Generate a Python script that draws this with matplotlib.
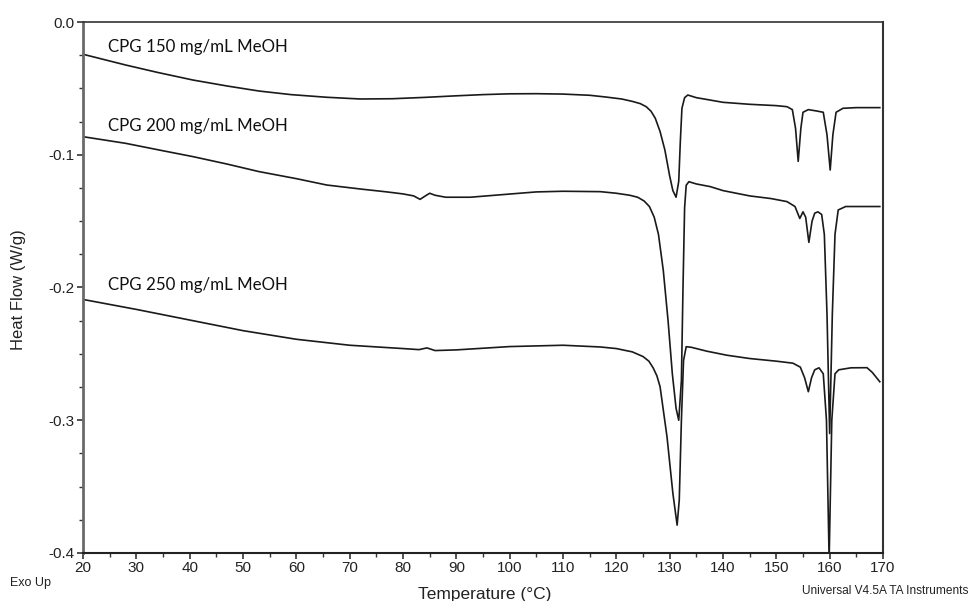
import matplotlib
matplotlib.use("Agg")
import matplotlib.pyplot as plt
from matplotlib.ticker import MultipleLocator, FuncFormatter

plt.rcParams['axes.unicode_minus'] = False

# ---- data ----
t_150 = [20, 28, 34, 40.6, 47, 53, 59, 65.7, 72, 78, 84, 90, 95, 100, 105, 110, 115,
         118, 121, 123, 124.5, 125.6, 126.5, 127.3, 128.2, 129.1, 130.0, 130.6, 131.2, 131.7,
         132.0, 132.3, 132.8, 133.4, 135, 137.6, 140, 145, 150, 152, 153, 153.6, 154.1,
         154.6, 155.0, 156, 157.5, 158.8, 159.5, 160.1, 160.6, 161.2, 162.5, 165, 169.4]
hf_150 = [-0.0243, -0.0324, -0.038, -0.0437, -0.0482, -0.052, -0.0547, -0.0567, -0.058,
          -0.0578, -0.0568, -0.0556, -0.0547, -0.0541, -0.054, -0.0543, -0.0552,
          -0.0565, -0.058, -0.0598, -0.0615, -0.0638, -0.0672, -0.0725, -0.0825, -0.0964,
          -0.116, -0.127, -0.132, -0.12, -0.09, -0.065, -0.057, -0.055, -0.057, -0.0588,
          -0.0605, -0.062, -0.063, -0.0638, -0.066, -0.080, -0.105, -0.080, -0.068, -0.066,
          -0.067, -0.068, -0.085, -0.1115, -0.085, -0.068, -0.065, -0.0645, -0.0645]

t_200 = [20, 28, 35, 40.6, 47, 53, 60, 65.7, 72, 77, 80, 82, 83.2, 84, 85, 86, 88, 92.6,
         100, 105, 110, 117, 120, 122.5, 124.0, 125.2, 126.2, 127.1, 127.9, 128.8, 129.7,
         130.5, 131.2, 131.7, 132.2, 132.5, 132.8, 133.1, 133.6, 135, 137.6, 140, 145, 149,
         152, 153.5, 154.4, 155.0, 155.5, 156.1, 156.7, 157.2, 157.8, 158.5, 159.0, 159.5,
         160.0, 160.5, 161.0, 161.6, 163, 169.4]
hf_200 = [-0.0864, -0.0914, -0.097, -0.1014, -0.107, -0.1127, -0.118, -0.1228, -0.1258,
          -0.128, -0.1295, -0.131, -0.1336, -0.1315, -0.129, -0.1305, -0.132, -0.132,
          -0.1296, -0.128, -0.1275, -0.1278, -0.129, -0.1305, -0.132, -0.1348, -0.139,
          -0.147, -0.160, -0.187, -0.225, -0.265, -0.291, -0.300, -0.27, -0.20, -0.14,
          -0.123, -0.1203, -0.122, -0.124, -0.127, -0.131, -0.133, -0.1353, -0.139, -0.148,
          -0.143, -0.147, -0.166, -0.150, -0.144, -0.143, -0.145, -0.16, -0.22, -0.31,
          -0.22, -0.16, -0.1416, -0.139, -0.139]

t_250 = [20, 30, 40, 50, 60, 70, 80, 83, 84.5, 86, 90, 100, 110, 117, 120, 123, 125, 126.1,
         126.9, 127.6, 128.2, 129.5, 130.6, 131.4, 131.8, 132.2, 132.6, 133.1, 134, 137, 140.7,
         145, 150, 153.1, 154.5, 155.3, 156.0, 156.6, 157.2, 158.0, 158.8, 159.4, 159.9,
         160.4, 161.0, 161.7, 164, 167, 168, 169.4]
hf_250 = [-0.209, -0.2165, -0.2245, -0.2325, -0.239, -0.2435, -0.246, -0.2468, -0.2455,
          -0.2475, -0.247, -0.2445, -0.2435, -0.2448, -0.246, -0.2485, -0.252, -0.2555,
          -0.2605, -0.2665, -0.2747, -0.3124, -0.355, -0.379, -0.36, -0.30, -0.255, -0.2446,
          -0.245, -0.248, -0.251, -0.2535, -0.2555, -0.257, -0.260, -0.268, -0.2785, -0.268,
          -0.262, -0.2605, -0.265, -0.30, -0.405, -0.30, -0.265, -0.262, -0.2605, -0.2604,
          -0.264, -0.271]

labels = ["CPG 150 mg/mL MeOH", "CPG 200 mg/mL MeOH", "CPG 250 mg/mL MeOH"]
label_x = [24.7, 24.7, 24.7]
label_y = [-0.0188, -0.0783, -0.198]

x_range = (20, 170)
y_range = (-0.4, 0.0)

# ---- figure ----
fig = plt.figure(figsize=(9.71, 6.01), dpi=100)
ax = fig.add_axes([83 / 971, 1 - 553 / 601, 800 / 971, 531 / 601])

for t, hf in [(t_150, hf_150), (t_200, hf_200), (t_250, hf_250)]:
    ax.plot(t, hf, color='#1a1a1a', lw=1.2, solid_joinstyle='round', clip_on=True)

for lab, lx, ly in zip(labels, label_x, label_y):
    ax.text(lx, ly, lab, fontsize=12.2, family=['Lato', 'DejaVu Sans'],
            color='#111111', va='center', ha='left')

ax.set_xlim(*x_range)
ax.set_ylim(*y_range)
ax.xaxis.set_major_locator(MultipleLocator(10))
ax.xaxis.set_minor_locator(MultipleLocator(5))
ax.yaxis.set_major_locator(MultipleLocator(0.1))
ax.yaxis.set_minor_locator(MultipleLocator(0.025))
ax.yaxis.set_major_formatter(FuncFormatter(lambda v, p: "0.0" if abs(v) < 1e-9 else "%.1f" % v))
ax.xaxis.set_major_formatter(FuncFormatter(lambda v, p: "%d" % round(v)))

ax.tick_params(axis='both', which='major', direction='out', length=4, width=1.2,
               labelsize=11, colors='#333333', labelcolor='#222222', pad=2)
ax.tick_params(axis='both', which='minor', direction='out', length=3, width=1.0,
               colors='#333333')
for lab in ax.get_xticklabels() + ax.get_yticklabels():
    lab.set_family(['Liberation Sans', 'DejaVu Sans'])

ax.spines['left'].set_color('#6a6a6a')
ax.spines['left'].set_linewidth(2.0)
ax.spines['bottom'].set_color('#222222')
ax.spines['bottom'].set_linewidth(1.5)
ax.spines['top'].set_color('#333333')
ax.spines['top'].set_linewidth(1.2)
ax.spines['right'].set_color('#333333')
ax.spines['right'].set_linewidth(1.5)

fig.text(18 / 971, 1 - 290 / 601, "Heat Flow (W/g)", rotation=90, ha='center', va='center',
         fontsize=12, family=['Liberation Sans', 'DejaVu Sans'], color='#222222')
fig.text(485 / 971, 1 - 594 / 601, "Temperature (°C)", ha='center', va='center',
         fontsize=12.5, family=['Liberation Sans', 'DejaVu Sans'], color='#222222')
fig.text(10 / 971, 1 - 583 / 601, "Exo Up", ha='left', va='center',
         fontsize=9, family=['Liberation Sans', 'DejaVu Sans'], color='#222222')
fig.text(968 / 971, 1 - 591 / 601, "Universal V4.5A TA Instruments", ha='right', va='center',
         fontsize=8.6, family=['Liberation Sans', 'DejaVu Sans'], color='#222222')

fig.savefig("out.png", dpi=100)
